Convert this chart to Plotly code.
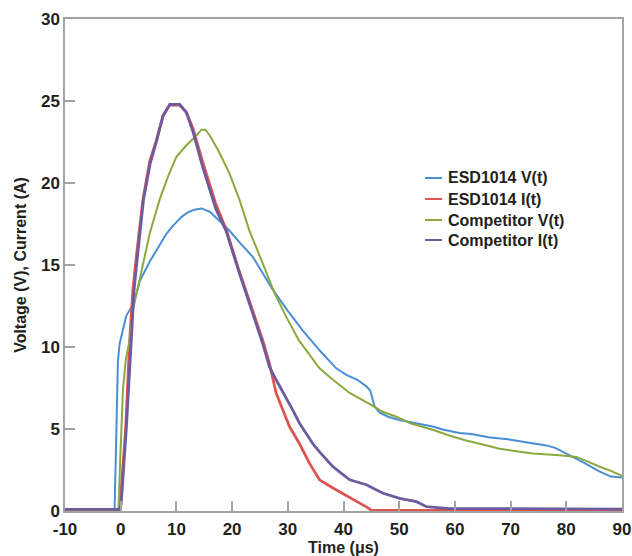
import plotly.graph_objects as go

# ESD1014 V(t)
esd_v_t = [-10, -1.1, -0.9, -0.6, -0.5, -0.2, 0.4, 1.0, 1.9, 2.5, 3.1, 3.4, 5.2, 6.4, 8.2, 9.4, 11.0, 12.0, 13.0, 14.5,
           16.0, 17.7, 19.5, 21.3, 23.7, 27.3, 30.0, 32.7, 35.7, 38.7, 40.5, 42.5, 44.1, 44.8, 45.3, 45.6,
           46.5, 48.0, 50.0, 53.0, 56.0, 58.0, 60.8, 63.0, 66.0, 70.0, 74.0, 76.4, 78.0, 80.0, 82.9, 86.0, 88.0, 90.0]
esd_v_y = [0.0, 0.05, 3.0, 7.5, 9.1, 10.2, 11.0, 11.9, 12.4, 12.9, 13.6, 14.0, 15.2, 15.9, 16.9, 17.4, 17.95, 18.2, 18.35, 18.45,
           18.25, 17.7, 17.1, 16.4, 15.5, 13.5, 12.2, 11.0, 9.8, 8.7, 8.3, 8.0, 7.6, 7.35, 6.8, 6.35,
           6.0, 5.75, 5.55, 5.35, 5.15, 4.95, 4.75, 4.7, 4.5, 4.35, 4.15, 4.0, 3.85, 3.5, 3.0, 2.4, 2.1, 2.05]

# ESD1014 I(t)
esd_i_t = [-10, -0.3, -0.1, 0.9, 1.6, 2.2, 2.8, 4.0, 5.2, 6.4, 7.6, 8.8, 10.6, 11.8, 13.0, 14.7, 17.1, 19.0,
           21.3, 23.7, 25.5, 26.7, 27.9, 30.3, 32.1, 33.9, 35.7, 38.1, 41.1, 44.1, 45.0, 90.0]
esd_i_y = [0.0, 0.0, 0.5, 5.0, 10.4, 13.5, 15.5, 19.0, 21.3, 22.6, 24.1, 24.75, 24.75, 24.3, 23.3, 21.3, 18.7, 17.1,
           14.6, 12.2, 10.4, 9.0, 7.2, 5.15, 4.1, 2.9, 1.9, 1.4, 0.85, 0.25, 0.05, 0.0]

# Competitor V(t)
comp_v_t = [-10, -0.4, -0.1, 0.2, 0.4, 0.9, 1.6, 2.2, 3.4, 5.2, 7.0, 8.5, 10.0, 11.8, 13.6, 14.5, 15.2, 16.0,
            17.5, 19.5, 21.3, 23.1, 25.5, 27.6, 29.7, 32.0, 35.7, 38.1, 41.1, 44.1, 45.6, 47.0, 49.5, 52.0,
            56.0, 59.0, 62.0, 65.0, 68.0, 71.0, 74.0, 78.8, 81.8, 84.0, 86.0, 88.0, 90.0]
comp_v_y = [0.0, 0.02, 3.0, 6.0, 7.4, 9.2, 10.4, 12.25, 14.2, 16.9, 19.0, 20.4, 21.6, 22.3, 22.9, 23.25, 23.25, 22.9,
            22.0, 20.6, 19.0, 17.1, 15.1, 13.3, 11.85, 10.4, 8.7, 8.0, 7.2, 6.65, 6.35, 6.05, 5.75, 5.35,
            4.95, 4.6, 4.3, 4.05, 3.8, 3.65, 3.5, 3.4, 3.3, 3.0, 2.7, 2.45, 2.15]

# Competitor I(t)
comp_i_t = [-10, -0.1, 0.1, 1.0, 1.9, 2.4, 3.0, 4.1, 5.3, 6.4, 7.6, 8.8, 10.6, 11.8, 13.0, 14.7, 17.1, 18.9,
            21.3, 23.7, 25.5, 26.7, 27.9, 30.9, 32.1, 34.5, 35.7, 38.1, 41.1, 44.1, 47.1, 50.1, 53.1, 54.9,
            59.0, 90.0]
comp_i_y = [0.1, 0.1, 0.5, 5.0, 10.4, 13.5, 15.5, 19.0, 21.2, 22.5, 24.1, 24.8, 24.8, 24.3, 23.1, 21.0, 18.4, 17.1,
            14.5, 12.05, 10.2, 8.8, 8.0, 6.15, 5.35, 4.1, 3.6, 2.7, 1.9, 1.6, 1.08, 0.77, 0.57, 0.26,
            0.15, 0.12]

x_ticks = [-10, 0, 10, 20, 30, 40, 50, 60, 70, 80, 90]
x_tick_text = ["-10", "0", "10", "20", "30", "40", "50", "60", "70", "80", "90"]
y_ticks = [0, 5, 10, 15, 20, 25, 30]

names = ["ESD1014 V(t)", "ESD1014 I(t)", "Competitor V(t)", "Competitor I(t)"]
colors = ["#4a8fd4", "#dc5550", "#8aaa3e", "#6e5a9c"]
widths = [2, 2.8, 2, 2.8]
series = [(esd_v_t, esd_v_y), (esd_i_t, esd_i_y), (comp_v_t, comp_v_y), (comp_i_t, comp_i_y)]

FAM = "Liberation Sans, Arial, sans-serif"
INK = "#231f20"

fig = go.Figure()
for (xs, ys), n, c, w in zip(series, names, colors, widths):
    fig.add_trace(go.Scatter(x=xs, y=ys, mode="lines", name=n, showlegend=False,
                             line=dict(color=c, width=w)))

axis_common = dict(showgrid=False, zeroline=False, showline=True, mirror=True, automargin=False,
                   linecolor="#a3a3a3", linewidth=1.5,
                   ticks="inside", ticklen=10, tickwidth=1.5, tickcolor="#a3a3a3",
                   tickfont=dict(family=FAM, size=17, color=INK, weight="bold"))

# manual legend (short line samples + text), placed inside the plot area
L, R, T, B = 65, 10, 19, 45
W, H = 632 - L - R, 556 - T - B
leg_x0, leg_x1, leg_tx = 425, 442, 446
leg_rows = [178, 199, 220, 240]
shapes, annotations = [], []
for n, c, py in zip(names, colors, leg_rows):
    yp = (556 - B - py) / H
    shapes.append(dict(type="line", xref="paper", yref="paper",
                       x0=(leg_x0 - L) / W, x1=(leg_x1 - L) / W, y0=yp, y1=yp,
                       line=dict(color=c, width=2)))
    annotations.append(dict(text=n, xref="paper", yref="paper", x=(leg_tx - L) / W, y=yp,
                            xanchor="left", yanchor="middle", showarrow=False,
                            font=dict(family=FAM, size=16, color=INK, weight="bold")))

fig.update_layout(
    width=632, height=556,
    margin=dict(l=L, r=R, t=T, b=B),
    paper_bgcolor="white", plot_bgcolor="white",
    showlegend=False,
    shapes=shapes, annotations=annotations,
    xaxis=dict(range=[-10, 90], tickvals=x_ticks, ticktext=x_tick_text, ticklabelstandoff=2,
               title=dict(text="Time (μs)", font=dict(family=FAM, size=16, color=INK, weight="bold"),
                          standoff=0),
               **axis_common),
    yaxis=dict(range=[0, 30], tickvals=y_ticks,
               title=dict(text="Voltage (V), Current (A)", font=dict(family=FAM, size=16, color=INK, weight="bold"),
                          standoff=10),
               **axis_common),
)

fig.write_html("out.html", config={"displayModeBar": False},
               post_script="document.body.style.margin='0';document.body.style.overflow='hidden';")
